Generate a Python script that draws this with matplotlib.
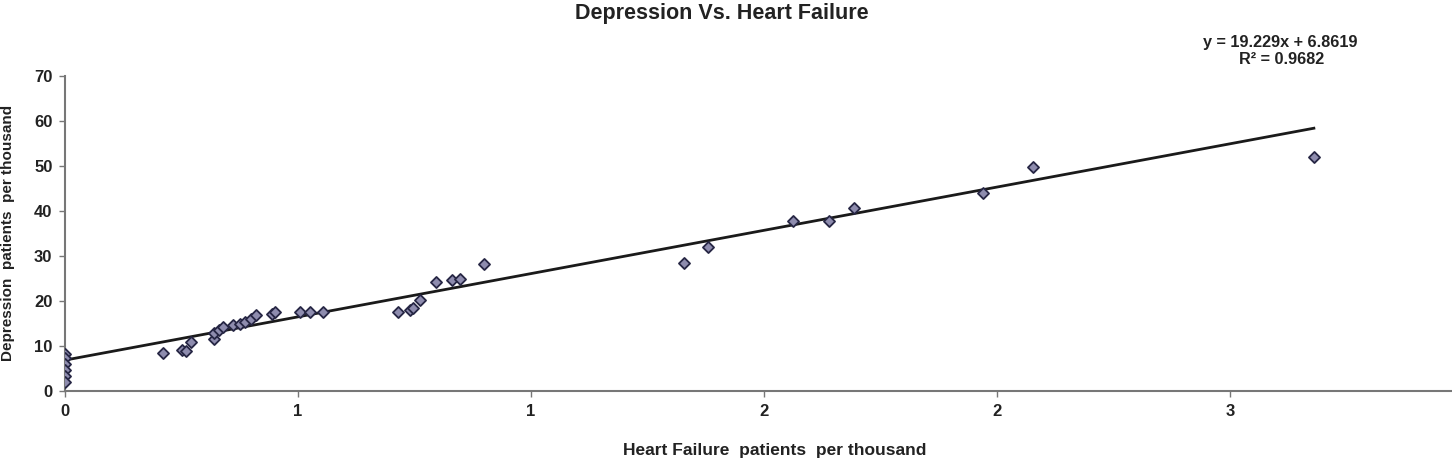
import numpy as np
import matplotlib.pyplot as plt

# heart failure (x) vs depression (y), patients per thousand
hf = [0, 0, 0, 0, 0, 0,
      0.21, 0.25, 0.26, 0.27, 0.32,
      0.32, 0.33, 0.34, 0.36, 0.375, 0.386, 0.40, 0.41,
      0.445, 0.45, 0.504, 0.526, 0.553,
      0.715, 0.74, 0.747, 0.762, 0.796, 0.83, 0.848, 0.90,
      1.328, 1.38, 1.562, 1.64, 1.693, 1.97, 2.077, 2.68]
dep = [8.2, 7.4, 6.0, 4.6, 3.4, 2.0,
       8.4, 9.1, 8.9, 10.9, 11.5,
       12.9, 13.5, 14.2, 14.7, 14.9, 15.3, 16.0, 16.9,
       17.1, 17.5, 17.5, 17.5, 17.5,
       17.6, 18.0, 18.4, 20.2, 24.2, 24.7, 24.9, 28.2,
       28.4, 32.0, 37.8, 37.8, 40.7, 44.0, 49.8, 52.0]

slope = 19.229
intercept = 6.8619
r2 = 0.9682

xticks = [0, 0.5, 1.0, 1.5, 2.0, 2.5]
xtick_labels = ["0", "1", "1", "2", "2", "3"]
yticks = [0, 10, 20, 30, 40, 50, 60, 70]

plt.rcParams['font.family'] = ['Liberation Sans', 'DejaVu Sans']
plt.rcParams['font.weight'] = 'bold'

fig = plt.figure(figsize=(14.52, 4.61), dpi=100)
ax = fig.add_axes([65 / 1452, 70 / 461, 1 - 65 / 1452, 315 / 461])

ax.scatter(hf, dep, marker='D', s=32, facecolor='#8e8cae', edgecolor='#262644',
           linewidth=1.3, zorder=3)

xfit = np.array([0, max(hf)])
ax.plot(xfit, slope * xfit + intercept, color='#1a1a1a', linewidth=2, zorder=2)

ax.set_xlim(0, (1452 - 65) / 466)
ax.set_ylim(0, 70)
ax.set_xticks(xticks)
ax.set_xticklabels(xtick_labels)
ax.set_yticks(yticks)
ax.tick_params(direction='out', length=4, width=1, color='#777777',
               labelsize=12, pad=5, labelcolor='#222222')
for side in ['top', 'right']:
    ax.spines[side].set_visible(False)
for side in ['left', 'bottom']:
    ax.spines[side].set_color('#777777')
    ax.spines[side].set_linewidth(1.5)

fig.text(775 / 1452, 1 - 450 / 461, "Heart Failure  patients  per thousand",
         ha='center', va='center', fontsize=12.5, fontweight='bold', color='#222222')
fig.text(722 / 1452, 1 - 14 / 461, "Depression Vs. Heart Failure", ha='center',
         va='center', fontsize=15.5, fontweight='bold', color='#222222')
fig.text(1280 / 1452, 1 - 42 / 461, "y = 19.229x + 6.8619", ha='center',
         va='center', fontsize=11.7, fontweight='bold', color='#222222')
fig.text(1282 / 1452, 1 - 59 / 461, "R² = 0.9682", ha='center',
         va='center', fontsize=11.7, fontweight='bold', color='#222222')
fig.text(8 / 1452, 1 - 233 / 461, "Depression  patients  per thousand", rotation=90,
         ha='center', va='center', fontsize=11, fontweight='bold', color='#222222')

fig.savefig("out.png", dpi=100)
